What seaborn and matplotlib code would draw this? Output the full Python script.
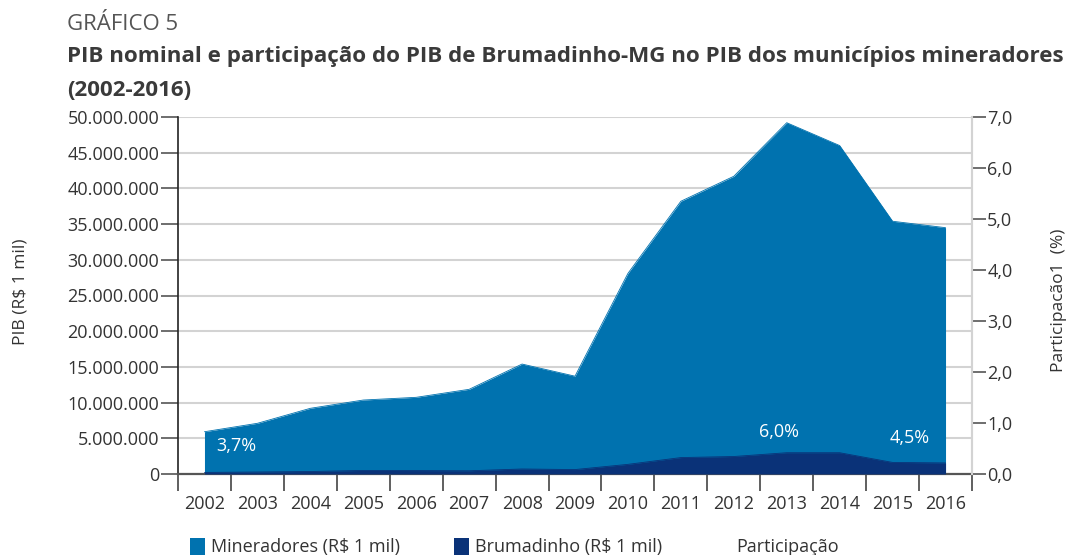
import matplotlib
matplotlib.use("Agg")
import matplotlib.pyplot as plt
import seaborn as sns
import pandas as pd
from matplotlib.patches import Patch
from matplotlib.lines import Line2D

# valores (R$ 1 mil)
anos = ['2002', '2003', '2004', '2005', '2006', '2007', '2008', '2009',
        '2010', '2011', '2012', '2013', '2014', '2015', '2016']
mineradores = [5920000, 7100000, 9200000, 10360000, 10740000, 11860000, 15400000, 13700000,
               28100000, 38200000, 41700000, 49200000, 46000000, 35400000, 34500000]
brumadinho = [220000, 280000, 350000, 500000, 480000, 450000, 700000, 620000,
              1350000, 2300000, 2450000, 2980000, 2980000, 1620000, 1550000]
rotulos_part = ['3,7%', '6,0%', '4,5%']
anos_rotulo = ['2002', '2013', '2015']

COR_MIN = '#0072af'
COR_BRU = '#0a3278'
TXT = '#333333'

sns.set_theme(style="white")
plt.rcParams['font.family'] = ['Open Sans', 'DejaVu Sans']

df = pd.DataFrame({'ano': anos, 'Mineradores': mineradores, 'Brumadinho': brumadinho})
df['x'] = range(len(df))

fig = plt.figure(figsize=(10.69, 5.55), dpi=100)
ax = fig.add_axes([178 / 1069, 1 - 474 / 555, (972 - 178) / 1069, (474 - 117) / 555])

ax.fill_between(df['x'], 0, df['Mineradores'], color=COR_MIN, linewidth=0, zorder=2)
sns.lineplot(data=df, x='x', y='Mineradores', color=COR_MIN, linewidth=0.6, ax=ax, zorder=2)
ax.fill_between(df['x'], 0, df['Brumadinho'], color=COR_BRU, linewidth=0, zorder=3)
sns.lineplot(data=df, x='x', y='Brumadinho', color=COR_BRU, linewidth=0.6, ax=ax, zorder=3)

ax.set_xlim(-0.5, len(anos) - 0.5)
ax.set_ylim(0, 50000000)
yt = list(range(0, 50000001, 5000000))
ax.set_yticks(yt)
ax.set_yticklabels([f"{v:,}".replace(",", ".") for v in yt], fontsize=13, color=TXT)
ax.grid(axis='y', color='#d3d3d3', linewidth=1.5, zorder=0)
ax.set_axisbelow(True)

# ticks no limite das categorias, rótulos no centro
ax.set_xticks([i - 0.5 for i in range(len(anos) + 1)])
ax.set_xticklabels([])
ax.set_xticks(list(range(len(anos))), minor=True)
ax.set_xticklabels(anos, minor=True, fontsize=13, color=TXT)
ax.tick_params(axis='x', which='major', length=12, width=1.2, color='#444444', direction='out', bottom=True)
ax.tick_params(axis='x', which='minor', length=0, pad=15)
ax.tick_params(axis='y', length=12, width=1.2, color='#555555', left=True, pad=1.5)

ax.set_xlabel('')
ax.set_ylabel('')
ax.spines['top'].set_visible(False)
ax.spines['left'].set_color('#222222')
ax.spines['left'].set_linewidth(1.2)
ax.spines['bottom'].set_color('#555555')
ax.spines['bottom'].set_linewidth(1.6)
ax.spines['right'].set_color('#d3d3d3')
ax.spines['right'].set_linewidth(1.5)

ax2 = ax.twinx()
ax2.set_ylim(0, 7)
ax2.set_yticks([float(i) for i in range(8)])
ax2.set_yticklabels([f"{i},0" for i in range(8)], fontsize=13, color=TXT)
ax2.tick_params(axis='y', length=10, width=1.2, color='#555555', right=True, pad=1)
ax2.grid(False)
for s in ['top', 'left', 'bottom']:
    ax2.spines[s].set_visible(False)
ax2.spines['right'].set_color('#d3d3d3')
ax2.spines['right'].set_linewidth(1.5)

# rótulos de participação
pos = {'2002': (0.6, 3930000), '2013': (10.85, 5900000), '2015': (13.33, 5050000)}
for ano, txt in zip(anos_rotulo, rotulos_part):
    px, py = pos[ano]
    ax.text(px, py, txt, color='white', fontsize=13, ha='center', va='center', zorder=5)

fig.text(21 / 1069, 1 - 292 / 555, 'PIB (R$ 1 mil)', rotation=90, fontsize=12.5,
         color=TXT, ha='center', va='center')
fig.text(1059 / 1069, 1 - 300 / 555, 'Participacão1  (%)', rotation=90, fontsize=12.5,
         color=TXT, ha='center', va='center')

fig.text(67 / 1069, 1 - 30 / 555, 'GRÁFICO 5', fontsize=16, color='#555555', va='baseline')

# título ajustado à largura do original
t1 = fig.text(67 / 1069, 1 - 62 / 555,
              'PIB nominal e participação do PIB de Brumadinho-MG no PIB dos municípios mineradores',
              fontsize=18, fontweight='bold', color='#3a3a3a', va='baseline')
r = fig.canvas.get_renderer()
w = t1.get_window_extent(renderer=r).width
fs = 18 * 996 / w
t1.set_fontsize(fs)
fig.text(67 / 1069, 1 - 96 / 555, '(2002-2016)', fontsize=fs, fontweight='bold',
         color='#3a3a3a', va='baseline')

handles = [Patch(facecolor=COR_MIN, edgecolor='none'),
           Patch(facecolor=COR_BRU, edgecolor='none'),
           Line2D([], [], color='none')]
fig.legend(handles, ['Mineradores (R$ 1 mil)', 'Brumadinho (R$ 1 mil)', 'Participação'],
           loc='center left', bbox_to_anchor=(190 / 1069, 1 - 547 / 555), ncol=3, frameon=False,
           fontsize=13, labelcolor=TXT, borderpad=0, borderaxespad=0, handlelength=0.85,
           handleheight=1.1, handletextpad=0.3, columnspacing=3.0)

fig.savefig('out.png', dpi=100)
